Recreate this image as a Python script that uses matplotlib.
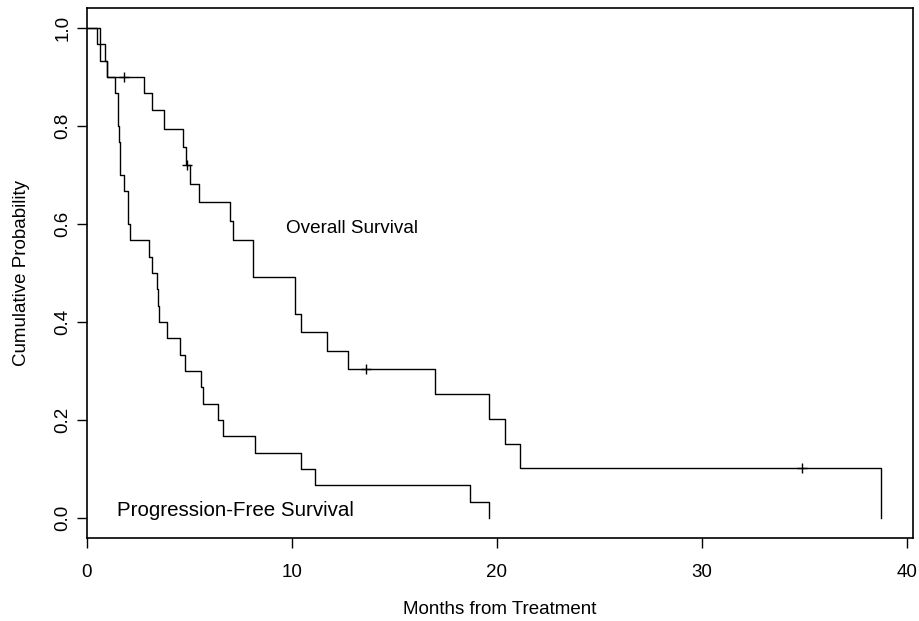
import numpy as np
import matplotlib.pyplot as plt

plt.rcParams['font.family'] = ['Liberation Sans', 'DejaVu Sans']

# Kaplan-Meier steps (time in months, probability after the step)
os_time   = [0, 0.63, 0.99, 2.80, 3.15, 3.77, 4.66, 4.83, 5.02, 5.46, 7.00, 7.14, 8.08,
             10.15, 10.42, 11.69, 12.75, 16.98, 19.62, 20.41, 21.13, 38.76]
os_surv   = [1.0, 0.933, 0.900, 0.867, 0.833, 0.793, 0.757, 0.720, 0.682, 0.645, 0.606, 0.568, 0.492,
             0.417, 0.379, 0.341, 0.304, 0.254, 0.203, 0.152, 0.102, 0.0]
os_cens_t = [1.82, 4.89, 13.6, 34.88]           # censored patients, overall survival
os_cens_s = [0.900, 0.720, 0.304, 0.102]

pfs_time  = [0, 0.47, 0.88, 0.99, 1.37, 1.50, 1.53, 1.56, 1.61, 1.82, 2.01, 2.10, 3.02, 3.19,
             3.43, 3.47, 3.52, 3.89, 4.54, 4.78, 5.56, 5.67, 6.40, 6.65, 8.20, 10.44, 11.12,
             18.68, 19.62]
pfs_surv  = [1.0, 0.967, 0.933, 0.900, 0.867, 0.833, 0.800, 0.767, 0.700, 0.667, 0.600, 0.567, 0.533, 0.500,
             0.467, 0.433, 0.400, 0.367, 0.333, 0.300, 0.267, 0.233, 0.200, 0.167, 0.133, 0.100, 0.067,
             0.033, 0.0]

xticks = [0, 10, 20, 30, 40]
yticks = [0.0, 0.2, 0.4, 0.6, 0.8, 1.0]

fig = plt.figure(figsize=(9.19, 6.21), dpi=100)
ax = fig.add_axes([87/919, 1-538/621, (913-87)/919, (538-8)/621])

ax.step(os_time, os_surv, where='post', color='black', lw=1.0)
ax.step(pfs_time, pfs_surv, where='post', color='black', lw=1.0)
ax.plot(os_cens_t, os_cens_s, ls='none', marker='+', color='black', ms=7.5, mew=1.0)

ax.text(9.7, 0.59, 'Overall Survival', fontsize=13.6, va='center', ha='left')
ax.text(1.45, 0.017, 'Progression-Free Survival', fontsize=14.8, va='center', ha='left')

ax.set_xlim(0, 40.3)
ax.set_ylim(-0.04, 1.04)
ax.set_xticks(xticks)
ax.set_yticks(yticks)
ax.set_xticklabels([str(v) for v in xticks])
ax.set_yticklabels(['%.1f' % v for v in yticks], rotation=90, va='center')
ax.tick_params(direction='out', length=7, width=1.0, labelsize=13.5, color='black')
ax.tick_params(axis='x', pad=12)
ax.tick_params(axis='y', pad=4)
for s in ax.spines.values():
    s.set_linewidth(1.2)

ax.set_xlabel('Months from Treatment', fontsize=13.5, labelpad=14)
ax.set_ylabel('Cumulative Probability', fontsize=13.5, labelpad=18)

fig.savefig('out.png', dpi=100)
